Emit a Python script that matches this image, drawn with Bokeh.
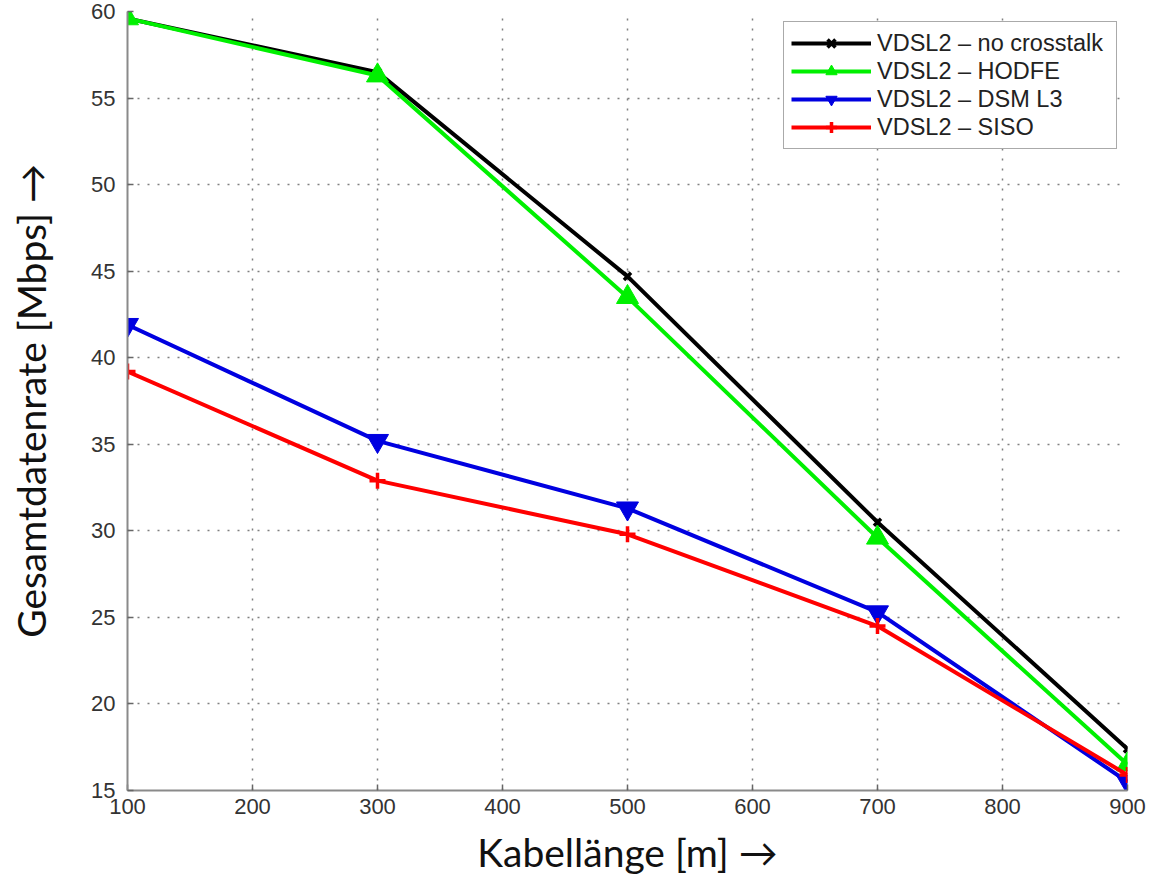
from bokeh.plotting import figure
from bokeh.models import Range1d, FixedTicker, Legend
from bokeh.embed import file_html
from bokeh.resources import INLINE

lengths = [100, 300, 500, 700, 900]
no_crosstalk = [59.6, 56.5, 44.7, 30.5, 17.4]
hodfe = [59.6, 56.3, 43.5, 29.6, 16.5]
dsm_l3 = [41.9, 35.2, 31.3, 25.3, 15.5]
siso = [39.2, 32.9, 29.8, 24.5, 15.9]
x_ticks = [100, 200, 300, 400, 500, 600, 700, 800, 900]
y_ticks = [15, 20, 25, 30, 35, 40, 45, 50, 55, 60]

p = figure(width=1148, height=877, output_backend="svg", toolbar_location=None,
           x_range=Range1d(100, 900), y_range=Range1d(15, 60),
           min_border_left=127, min_border_right=21, min_border_top=11,
           min_border_bottom=81)
p.outline_line_color = None
p.background_fill_color = "white"

for ax in (p.xaxis[0], p.yaxis[0]):
    ax.axis_line_color = "#8a8a8a"
    ax.axis_line_width = 2
    ax.major_tick_in = 6
    ax.major_tick_out = 0
    ax.minor_tick_line_color = None
    ax.major_tick_line_color = "#666666"
    ax.major_tick_line_width = 1.5
    ax.major_label_text_font = "Liberation Sans"
    ax.major_label_text_font_size = "22px"
    ax.major_label_text_color = "#333333"
    ax.axis_label_text_font = "Lato"
    ax.axis_label_text_font_size = "39px"
    ax.axis_label_text_font_style = "normal"
    ax.axis_label_text_color = "#111111"

p.xaxis.ticker = FixedTicker(ticks=x_ticks)
p.yaxis.ticker = FixedTicker(ticks=y_ticks)
p.xaxis.major_label_standoff = 8
p.yaxis.major_label_standoff = 12
p.xaxis.axis_label = "Kabellänge [m] →"
p.yaxis.axis_label = "Gesamtdatenrate [Mbps] →"
p.xaxis.axis_label_standoff = 12
p.yaxis.axis_label_standoff = 34

for g in (p.xgrid[0], p.ygrid[0]):
    g.grid_line_color = "#808080"
    g.grid_line_width = 1.5
    g.grid_line_dash = "2 8"

series = [
    ("VDSL2 – no crosstalk", no_crosstalk, "#000000", "x", 10),
    ("VDSL2 – HODFE", hodfe, "#00f000", "triangle", 22),
    ("VDSL2 – DSM L3", dsm_l3, "#0000e0", "inverted_triangle", 22),
    ("VDSL2 – SISO", siso, "#ff0000", "cross", 16),
]

items = []
for name, vals, col, mk, sz in series:
    r1 = p.line(lengths, vals, line_color=col, line_width=4)
    if mk in ("x", "cross"):
        r2 = p.scatter(lengths, vals, marker=mk, size=sz, line_color=col,
                       line_width=3.5)
    else:
        r2 = p.scatter(lengths, vals, marker=mk, size=sz, fill_color=col,
                       line_color=col, line_width=1)
    items.append((name, [r1, r2]))

legend = Legend(items=items, location="top_right")
legend.label_text_font = "Liberation Sans"
legend.label_text_font_size = "23.5px"
legend.label_text_color = "#222222"
legend.border_line_color = "#555555"
legend.border_line_width = 1.5
legend.glyph_width = 80
legend.glyph_height = 28
legend.label_height = 28
legend.label_width = 232
legend.spacing = 0
legend.padding = 7
legend.margin = 10
legend.label_standoff = 6
legend.background_fill_alpha = 1
p.add_layout(legend)

open("out.html", "w").write(file_html(p, INLINE))
